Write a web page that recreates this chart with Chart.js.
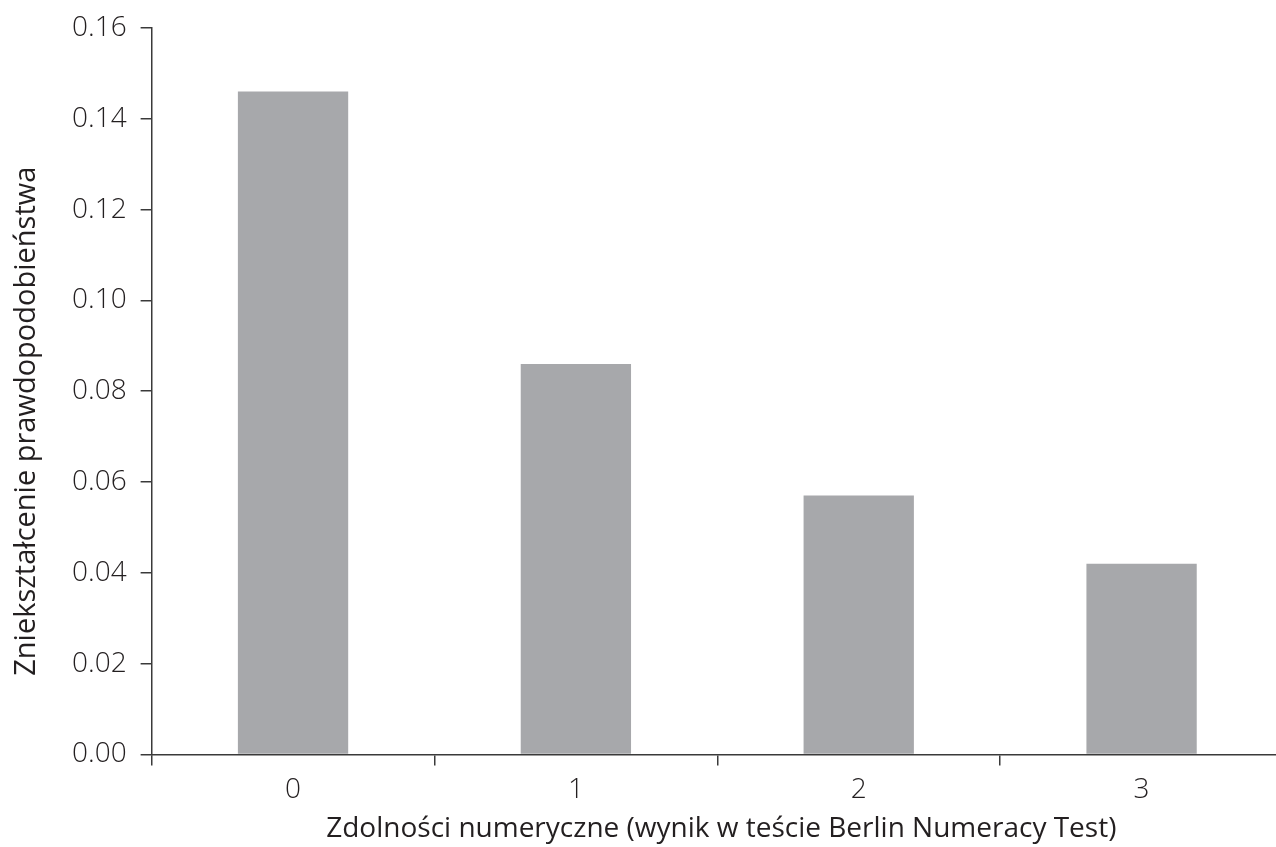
<!DOCTYPE html>
<html lang="pl">
<head>
    <meta charset="UTF-8">
    <title>Zniekształcenie prawdopodobieństwa</title>
    <script src="https://cdn.jsdelivr.net/npm/chart.js"></script>
    <style>
        html, body { margin: 0; padding: 0; background: #fff; overflow: hidden; }
        .chart-box { width: 1292px; height: 847px; }
    </style>
</head>
<body>
    <div class="chart-box">
        <canvas id="numeracyChart" width="1292" height="847"></canvas>
    </div>

    <script>
        // Data
        const categories = ['0', '1', '2', '3'];
        const distortion = [0.146, 0.086, 0.057, 0.042];
        const yTicks = [0, 0.02, 0.04, 0.06, 0.08, 0.10, 0.12, 0.14, 0.16];

        const xTitle = 'Zdolności numeryczne (wynik w teście Berlin Numeracy Test)';
        const yTitle = 'Zniekształcenie prawdopodobieństwa';

        const axisColor = '#3a3a3a';
        const textColor = '#231f20';
        const fontFamily = '"Open Sans", "Noto Sans", sans-serif';

        // Axis titles are drawn by hand: in the original they sit a bit off the plot centre
        const axisTitles = {
            id: 'axisTitles',
            afterDraw(chart) {
                const c = chart.ctx;
                const area = chart.chartArea;
                c.save();
                c.fillStyle = textColor;
                c.textAlign = 'center';
                c.textBaseline = 'alphabetic';

                c.font = `400 28px ${fontFamily}`;
                c.fillText(xTitle, (area.left + area.right) / 2 + 4, 837);

                c.font = `400 29px ${fontFamily}`;
                c.translate(35, (area.top + area.bottom) / 2 + 30);
                c.rotate(-Math.PI / 2);
                c.fillText(yTitle, 0, 0);
                c.restore();
            }
        };

        const ctx = document.getElementById('numeracyChart').getContext('2d');
        const chart = new Chart(ctx, {
            type: 'bar',
            data: {
                labels: categories,
                datasets: [{
                    data: distortion,
                    backgroundColor: '#a7a8ab',
                    borderWidth: 0,
                    categoryPercentage: 1.0,
                    barPercentage: 0.39
                }]
            },
            plugins: [axisTitles],
            options: {
                responsive: false,
                devicePixelRatio: 1,
                animation: false,
                layout: { padding: { top: 10, right: 9, left: 58, bottom: 32 } },
                plugins: {
                    legend: { display: false },
                    tooltip: { enabled: false }
                },
                scales: {
                    x: {
                        offset: true,
                        grid: {
                            offset: true,
                            drawOnChartArea: false,
                            drawTicks: true,
                            tickLength: 11,
                            color: axisColor,
                            lineWidth: 1.5
                        },
                        border: { color: axisColor, width: 1.5 },
                        ticks: {
                            color: textColor,
                            font: { family: fontFamily, size: 28, weight: '300' },
                            padding: 8
                        }
                    },
                    y: {
                        min: 0,
                        max: 0.16,
                        afterBuildTicks: (axis) => {
                            axis.ticks = yTicks.map(v => ({ value: v }));
                        },
                        grid: {
                            drawOnChartArea: false,
                            drawTicks: true,
                            tickLength: 11,
                            color: axisColor,
                            lineWidth: 1.5
                        },
                        border: { color: axisColor, width: 1.5 },
                        ticks: {
                            color: textColor,
                            font: { family: fontFamily, size: 28, weight: '300', lineHeight: 1.0 },
                            padding: 14,
                            callback: (v) => Number(v).toFixed(2)
                        }
                    }
                }
            }
        });
    </script>
</body>
</html>
